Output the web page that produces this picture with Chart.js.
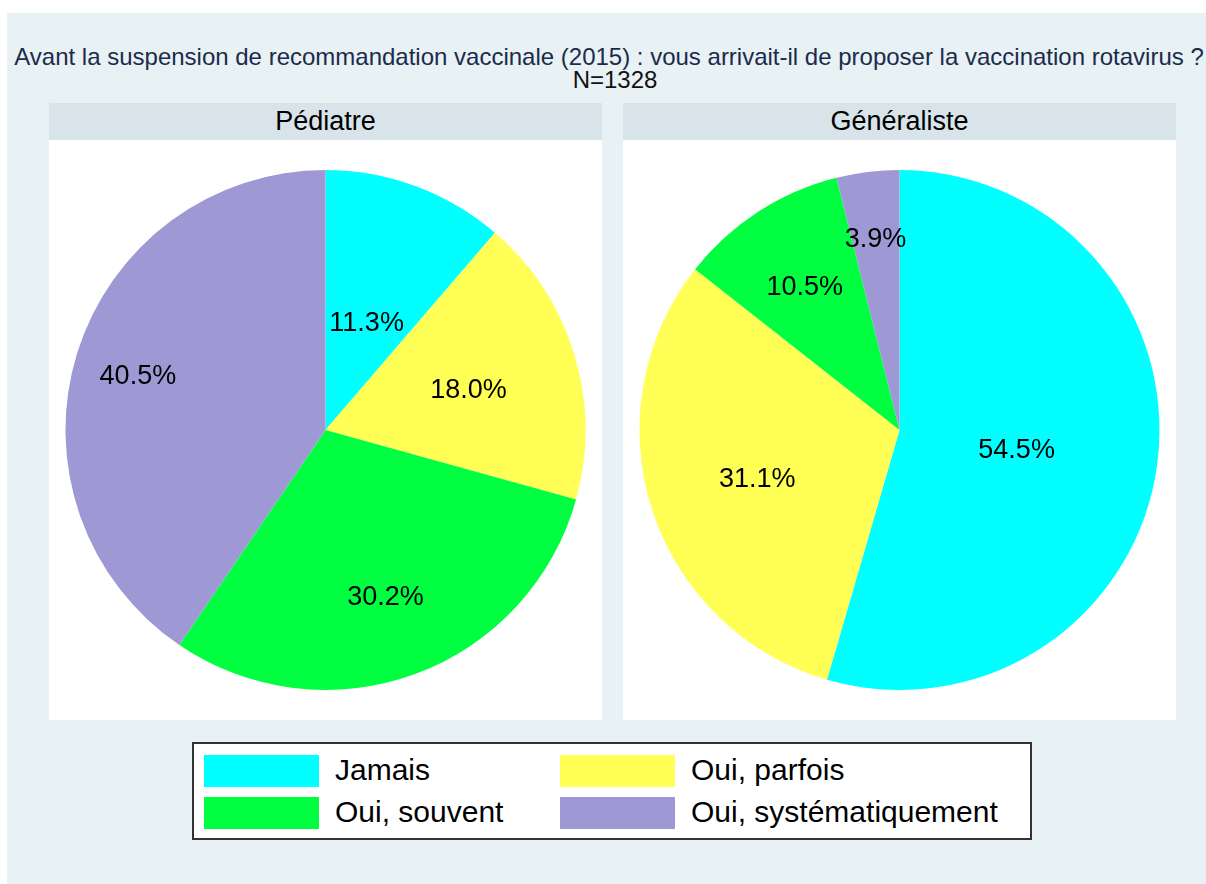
<!DOCTYPE html>
<html>
<head>
<meta charset="utf-8">
<script src="https://cdn.jsdelivr.net/npm/chart.js@4/dist/chart.umd.min.js"></script>
<style>
  body { margin: 0; width: 1206px; height: 884px; background: #fff; position: relative; overflow: hidden;
         font-family: "Liberation Sans", Arial, Helvetica, sans-serif; }
  #bg { position: absolute; left: 7px; top: 13px; width: 1199px; height: 871px; background: #e8f1f3; }
  .title { position: absolute; left: 0; width: 1218px; text-align: center; white-space: nowrap; color: #1c2b4c; }
  #t1 { top: 43px; font-size: 24px; line-height: 28px; }
  #t2 { top: 66px; font-size: 24px; line-height: 28px; color: #111; left: 6px; }
  .panel { position: absolute; top: 103px; width: 553px; height: 617px; }
  .panel .head { height: 37px; background: #d8e4ea; text-align: center; font-size: 27px; line-height: 37px; color: #000; }
  .panel .plot { height: 580px; background: #fff; position: relative; }
  #legend { position: absolute; left: 192px; top: 742px; width: 836px; height: 94px; border: 2px solid #333; background: #fff; }
  .item { position: absolute; height: 32px; }
  .item .sw { position: absolute; left: 0; top: 0; width: 115px; height: 32px; }
  .item .lb { position: absolute; left: 131px; top: -2px; font-size: 30px; line-height: 34px; white-space: nowrap; color: #000; }
</style>
</head>
<body>
<div id="bg"></div>
<div class="title" id="t1">Avant la suspension de recommandation vaccinale (2015) : vous arrivait-il de proposer la vaccination rotavirus ?</div>
<div class="title" id="t2">N=1328</div>
<div class="panel" style="left:49px"><div class="head" id="h0"></div><div class="plot"><canvas id="c0"></canvas></div></div>
<div class="panel" style="left:623px"><div class="head" id="h1"></div><div class="plot"><canvas id="c1"></canvas></div></div>
<div id="legend"></div>
<script>
// data
const categories = ['Jamais', 'Oui, parfois', 'Oui, souvent', 'Oui, systématiquement'];
const groups = ['Pédiatre', 'Généraliste'];
const pediatre = [11.3, 18.0, 30.2, 40.5];
const generaliste = [54.5, 31.1, 10.5, 3.9];

// styles
const colors = ['#00ffff', '#ffff55', '#00ff40', '#9e99d4'];
const labelRadius = [0.455, 0.575, 0.67, 0.755];

const pieLabels = {
  id: 'pieLabels',
  afterDatasetsDraw(chart) {
    const ctx = chart.ctx;
    const meta = chart.getDatasetMeta(0);
    const values = chart.data.datasets[0].data;
    ctx.save();
    ctx.font = '27px "Liberation Sans", Arial, sans-serif';
    ctx.fillStyle = '#000';
    ctx.textAlign = 'center';
    ctx.textBaseline = 'middle';
    meta.data.forEach((arc, i) => {
      const a = (arc.startAngle + arc.endAngle) / 2;
      const r = arc.outerRadius * labelRadius[i];
      ctx.fillText(values[i].toFixed(1) + '%', arc.x + Math.cos(a) * r, arc.y + Math.sin(a) * r + 4);
    });
    ctx.restore();
  }
};

function makePie(id, values) {
  new Chart(document.getElementById(id), {
    type: 'pie',
    data: {
      labels: categories,
      datasets: [{ data: values, backgroundColor: colors, borderWidth: 0, radius: 260 }]
    },
    options: {
      responsive: true,
      maintainAspectRatio: false,
      animation: false,
      plugins: { legend: { display: false }, tooltip: { enabled: false } }
    },
    plugins: [pieLabels]
  });
}

document.getElementById('h0').textContent = groups[0];
document.getElementById('h1').textContent = groups[1];
makePie('c0', pediatre);
makePie('c1', generaliste);

// legend, two columns
const legend = document.getElementById('legend');
categories.forEach((name, k) => {
  const col = k % 2, row = Math.floor(k / 2);
  const item = document.createElement('div');
  item.className = 'item';
  item.style.left = (10 + col * 356) + 'px';
  item.style.top = (11 + row * 42) + 'px';
  item.innerHTML = '<div class="sw" style="background:' + colors[k] + '"></div><div class="lb">' + name + '</div>';
  legend.appendChild(item);
});
</script>
</body>
</html>
